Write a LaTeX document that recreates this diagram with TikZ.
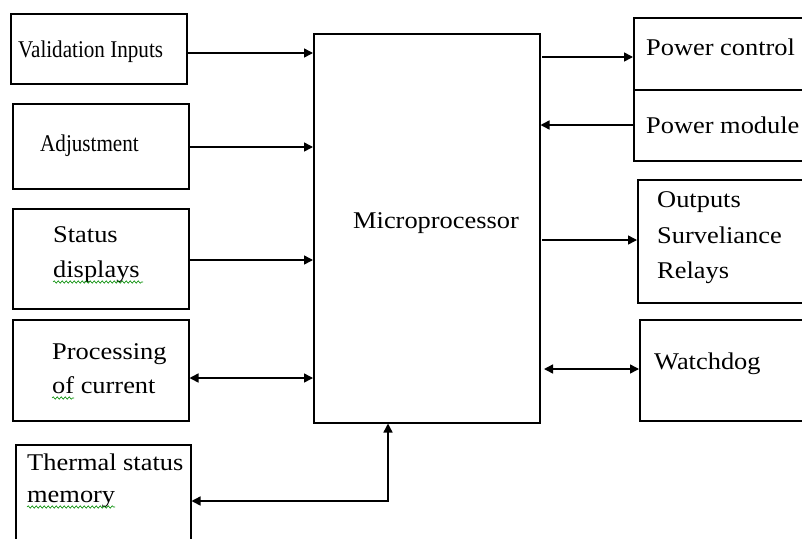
\documentclass[tikz,border=0pt]{standalone}
\usepackage{fontspec}
\usepackage{graphicx}
\setmainfont[FakeStretch=1.1]{Liberation Serif}
\usetikzlibrary{arrows.meta,decorations.pathmorphing}
\tikzset{
  blk/.style={draw, line width=1.5pt, inner sep=0pt, anchor=north west},
  lbl/.style={inner sep=0pt, anchor=base west, font=\fontsize{24}{28}\selectfont},
  arr/.style={line width=1.5pt, -{Triangle[length=9pt,width=9pt]}},
  darr/.style={line width=1.5pt, {Triangle[length=9pt,width=9pt]}-{Triangle[length=9pt,width=9pt]}},
  squig/.style={draw=green!55!black, line width=0.6pt, decorate,
    decoration={snake, segment length=4pt, amplitude=1.2pt}}
}
\begin{document}
\begin{tikzpicture}[x=1pt,y=-1pt]
\clip (0,0) rectangle (802,538);
\fill[white] (0,0) rectangle (802,538);
% boxes
\node[blk, minimum width=176pt, minimum height=70pt] (val) at (10,13) {};
\node[blk, minimum width=176pt, minimum height=85pt] (adj) at (12,103) {};
\node[blk, minimum width=176pt, minimum height=100pt] (sta) at (12,208) {};
\node[blk, minimum width=176pt, minimum height=101pt] (pro) at (12,319) {};
\node[blk, minimum width=175pt, minimum height=115pt] (the) at (15,444) {};
\node[blk, minimum width=226pt, minimum height=389pt] (mic) at (313,33) {};
\node[blk, minimum width=185pt, minimum height=72pt] (pc) at (633,17) {};
\node[blk, minimum width=185pt, minimum height=71pt] (pm) at (633,89) {};
\node[blk, minimum width=185pt, minimum height=123pt] (out) at (637,179) {};
\node[blk, minimum width=185pt, minimum height=101pt] (wd) at (639,319) {};
% labels
\node[lbl] (tval) at (18,57) {\scalebox{0.8}[1]{Validation Inputs}};
\node[lbl] (tadj) at (40,151) {\scalebox{0.8}[1]{Adjustment}};
\node[lbl] (tsta1) at (53,242) {Status};
\node[lbl] (tsta2) at (53,277) {displays};
\node[lbl] (tpro1) at (52,359) {Processing};
\node[lbl] (tpro2) at (52,393) {of current};
\node[lbl] (tthe1) at (27,470) {Thermal status};
\node[lbl] (tthe2) at (27,502) {memory};
\node[lbl] (tmic) at (353,228) {Microprocessor};
\node[lbl] (tpc) at (646,55) {Power control};
\node[lbl] (tpm) at (646,133) {Power module};
\node[lbl] (tout1) at (657,207) {Outputs};
\node[lbl] (tout2) at (657,243) {Surveliance};
\node[lbl] (tout3) at (657,278) {Relays};
\node[lbl] (twd) at (654,369) {Watchdog};
% spelling squiggles
\draw[squig] (tsta2.base west) ++(0,5) -- ++(90,0);
\draw[squig] (tpro2.base west) ++(0,5) -- ++(22,0);
\draw[squig] (tthe2.base west) ++(0,5) -- ++(88,0);
% connectors
\draw[arr] (val.east |- 0,53) -- (mic.west |- 0,53);
\draw[arr] (adj.east |- 0,147) -- (mic.west |- 0,147);
\draw[arr] (sta.east |- 0,260) -- (mic.west |- 0,260);
\draw[darr] (pro.east |- 0,378) -- (mic.west |- 0,378);
\draw[darr] (the.east |- 0,501) -| (388,0 |- mic.south);
\draw[arr] (542,57) -- (pc.west |- 0,57);
\draw[arr] (pm.west |- 0,125) -- (mic.east |- 0,125);
\draw[arr] (542,240) -- (out.west |- 0,240);
\draw[darr] (544,369) -- (wd.west |- 0,369);
\end{tikzpicture}
\end{document}
